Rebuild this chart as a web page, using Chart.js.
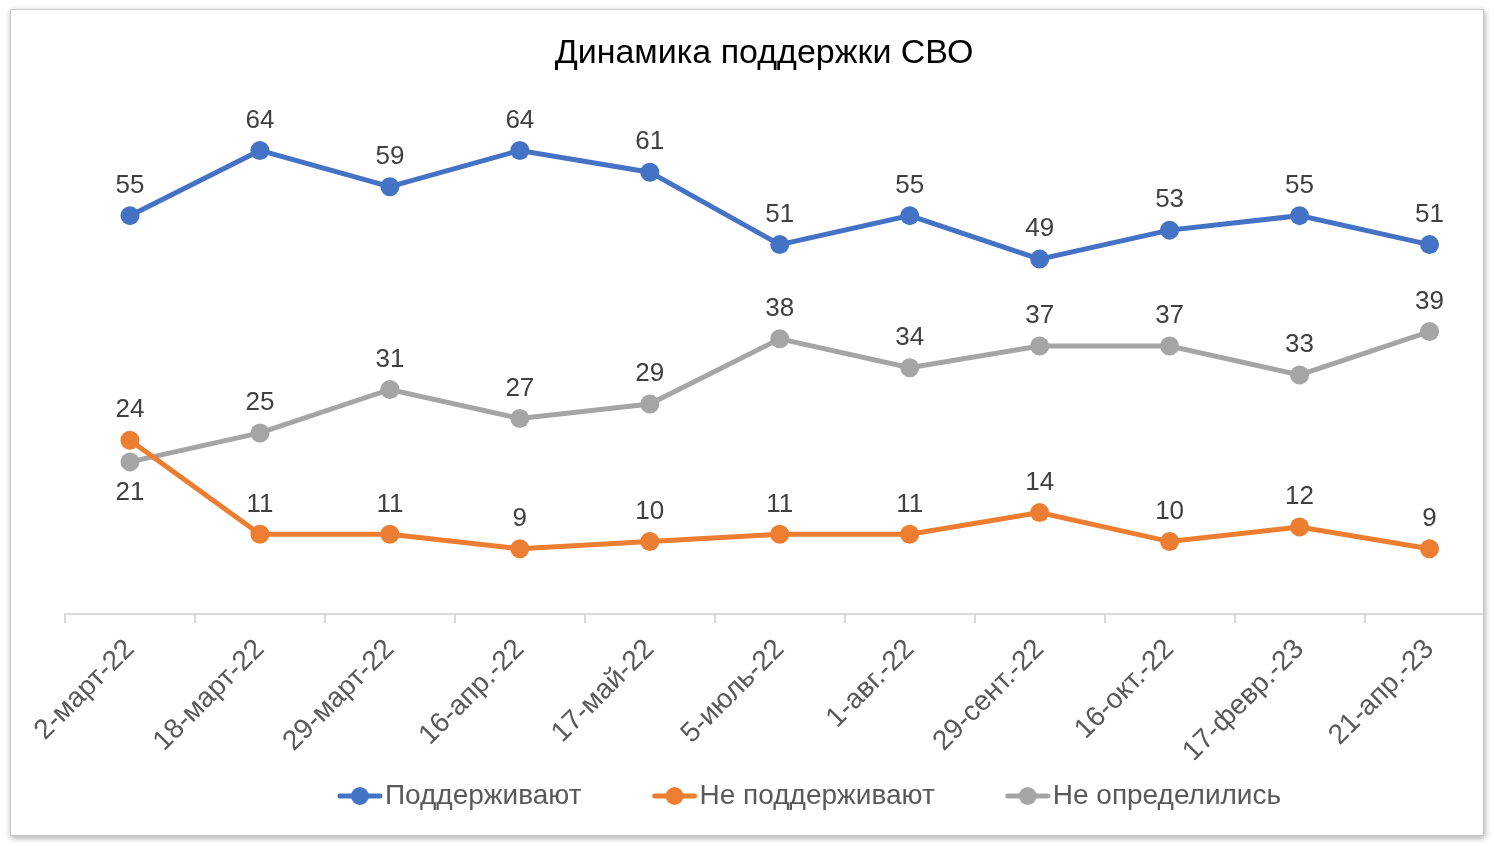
<!DOCTYPE html>
<html lang="ru">
<head>
    <meta charset="UTF-8">
    <title>Динамика поддержки СВО</title>
    <script src="https://cdn.jsdelivr.net/npm/chart.js"></script>
    <style>
        body { margin: 0; background: #fff; }
        .card {
            position: absolute; left: 10px; top: 9px; width: 1474px; height: 827px;
            background: #fff; overflow: hidden;
            border: 1px solid #c8c8c8;
            box-shadow: 1px 2px 6px rgba(0,0,0,0.35);
            box-sizing: border-box;
        }
        .wrap { position: absolute; left: -1px; top: -1px; width: 1494px; height: 840px; }
    </style>
</head>
<body>
    <div class="card">
        <div class="wrap"><canvas id="supportChart"></canvas></div>
    </div>

    <script>
        const chartTitle = 'Динамика поддержки СВО';
        const dates = ['2-март-22', '18-март-22', '29-март-22', '16-апр.-22', '17-май-22', '5-июль-22',
                       '1-авг.-22', '29-сент.-22', '16-окт.-22', '17-февр.-23', '21-апр.-23'];
        const support = [55, 64, 59, 64, 61, 51, 55, 49, 53, 55, 51];
        const against = [24, 11, 11, 9, 10, 11, 11, 14, 10, 12, 9];
        const undecided = [21, 25, 31, 27, 29, 38, 34, 37, 37, 33, 39];

        const FONT = '"Liberation Sans", Arial, Helvetica, sans-serif';
        const LEGEND_PAD = 21;
        const LEGEND_BOX = 104 - LEGEND_PAD;

        // legend marker: short line with a dot, drawn at the right end of a wider transparent image
        function legendMarker(color) {
            const c = document.createElement('canvas');
            c.width = LEGEND_BOX + 24; c.height = 22;
            const g = c.getContext('2d');
            const x0 = c.width - 46;
            g.strokeStyle = color; g.lineWidth = 5; g.lineCap = 'round';
            g.beginPath(); g.moveTo(x0 + 3, 11); g.lineTo(x0 + 43, 11); g.stroke();
            g.fillStyle = color;
            g.beginPath(); g.arc(x0 + 23, 11, 9, 0, Math.PI * 2); g.fill();
            return c;
        }

        // title sits a little left of the plot centre, like in the original sheet
        const titlePlugin = {
            id: 'sheetTitle',
            afterDraw(chart) {
                const ctx = chart.ctx;
                ctx.save();
                ctx.font = '34px ' + FONT;
                ctx.fillStyle = '#000';
                ctx.textAlign = 'center';
                ctx.textBaseline = 'middle';
                ctx.fillText(chartTitle, 754, 44.5);
                ctx.restore();
            }
        };

        // numbers above points (gray first point goes below)
        const pointLabels = {
            id: 'pointLabels',
            afterDatasetsDraw(chart) {
                const ctx = chart.ctx;
                ctx.save();
                ctx.font = '26px ' + FONT;
                ctx.fillStyle = '#404040';
                ctx.textAlign = 'center';
                ctx.textBaseline = 'middle';
                chart.data.datasets.forEach((ds, di) => {
                    chart.getDatasetMeta(di).data.forEach((pt, i) => {
                        const below = (di === 2 && i === 0);
                        ctx.fillText(ds.data[i], pt.x, below ? pt.y + 31 : pt.y - 30);
                    });
                });
                ctx.restore();
            }
        };

        function series(label, data, color) {
            return {
                label: label,
                data: data,
                borderColor: color,
                backgroundColor: color,
                borderWidth: 5,
                pointRadius: 9.5,
                pointHoverRadius: 9.5,
                pointBorderWidth: 0,
                tension: 0
            };
        }

        new Chart(document.getElementById('supportChart'), {
            type: 'line',
            data: {
                labels: dates,
                datasets: [
                    series('Поддерживают', support, '#4472C4'),
                    series('Не поддерживают', against, '#ED7D31'),
                    series('Не определились', undecided, '#A5A5A5')
                ]
            },
            plugins: [pointLabels, titlePlugin],
            options: {
                responsive: true,
                maintainAspectRatio: false,
                animation: false,
                layout: { padding: { left: 55, right: 0, top: 98, bottom: 29 } },
                plugins: {
                    legend: {
                        position: 'bottom',
                        labels: {
                            usePointStyle: true,
                            pointStyleWidth: LEGEND_BOX,
                            color: '#595959',
                            font: { family: FONT, size: 28 },
                            padding: LEGEND_PAD,
                            generateLabels(chart) {
                                return chart.data.datasets.map((ds, i) => ({
                                    text: ds.label,
                                    fontColor: '#595959',
                                    pointStyle: legendMarker(ds.borderColor),
                                    datasetIndex: i,
                                    lineWidth: 0,
                                    hidden: false
                                }));
                            }
                        }
                    },
                    tooltip: { enabled: false }
                },
                scales: {
                    x: {
                        offset: true,
                        border: { color: '#d9d9d9', width: 2 },
                        grid: { offset: true, drawOnChartArea: false, drawTicks: true, tickLength: 9, color: '#d9d9d9', lineWidth: 2 },
                        ticks: {
                            color: '#595959',
                            font: { family: FONT, size: 28 },
                            minRotation: 45,
                            maxRotation: 45,
                            padding: 10
                        },
                        afterFit(scale) { scale.height = 147; }
                    },
                    y: {
                        display: false,
                        min: 0,
                        max: 70
                    }
                }
            }
        });
    </script>
</body>
</html>
